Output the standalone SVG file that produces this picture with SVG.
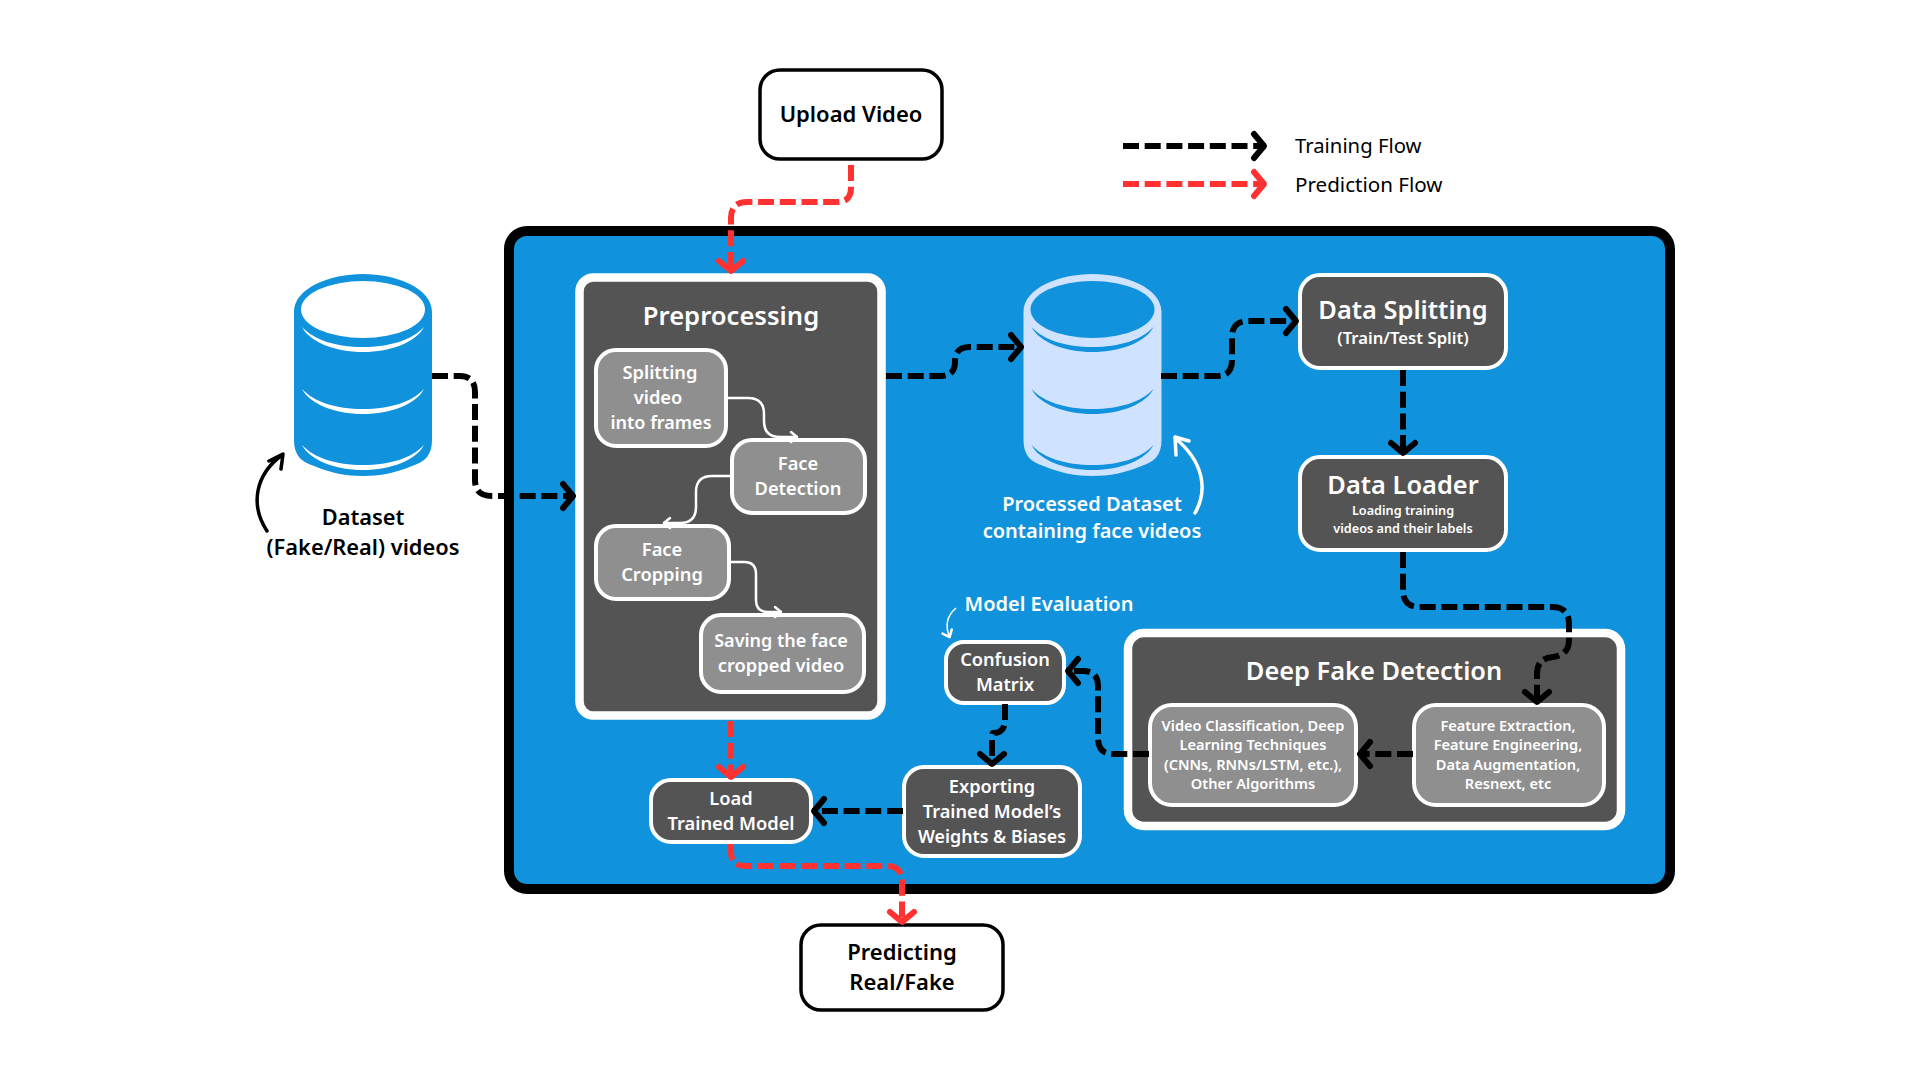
<svg xmlns="http://www.w3.org/2000/svg" width="1920" height="1080" viewBox="0 0 1920 1080">
<style>
text{font-family:"Noto Sans","Open Sans",sans-serif;font-weight:600;text-anchor:middle;fill:#fff}
.k{fill:#000}
.t{stroke:#fff;stroke-width:4;fill:#545454}
.s{stroke:#fff;stroke-width:4;fill:#8f8f8f}
.e{stroke:#000;stroke-width:3.500;fill:#fff}
.d{fill:none;stroke-width:6;stroke-dasharray:16 5.7}
.b{stroke:#000;marker-end:url(#ab)}
.r{stroke:#ff3131;marker-end:url(#ar)}
.w{fill:none;stroke:#fff;stroke-width:2.500;marker-end:url(#aw)}
</style>
<defs>
<marker id="ab" markerUnits="userSpaceOnUse" markerWidth="30" markerHeight="34" refX="20" refY="17" orient="auto"><path d="M8,5 L18,17 L8,29" fill="none" stroke="#000" stroke-width="6" stroke-linecap="round" stroke-linejoin="round"/></marker>
<marker id="ar" markerUnits="userSpaceOnUse" markerWidth="30" markerHeight="34" refX="20" refY="17" orient="auto"><path d="M8,5 L18,17 L8,29" fill="none" stroke="#ff3131" stroke-width="6" stroke-linecap="round" stroke-linejoin="round"/></marker>
<marker id="aw" markerUnits="userSpaceOnUse" markerWidth="20" markerHeight="20" refX="15" refY="10" orient="auto"><path d="M8,5 L14,10 L8,15" fill="none" stroke="#fff" stroke-width="2.500" stroke-linecap="round" stroke-linejoin="round"/></marker>
<path id="cyl" d="M294,312 C294,288 330,274 363,274 C396,274 432,288 432,312 V440 C432,455 425,462 412,466 C395,473 380,476 363,476 C346,476 331,473 314,466 C301,462 294,455 294,440 Z"/>
<ellipse id="cyltop" cx="363" cy="309.500" rx="62" ry="28.500"/>
<path id="cres" d="M302,0 C310,15 335,25 363,25 C391,25 416,15 424,0 C412,13 390,20 363,20 C336,20 314,13 302,0 Z"/>
</defs>
<rect width="1920" height="1080" fill="#fff"/>
<g id="container"><rect x="509" y="231" width="1161" height="658" rx="18" fill="#1192dc" stroke="#000" stroke-width="10"/></g>
<g id="dataset">
<use href="#cyl" fill="#1192dc"/><use href="#cyltop" fill="#fff"/>
<use href="#cres" y="327" fill="#fff"/><use href="#cres" y="389" fill="#fff"/><use href="#cres" y="445" fill="#fff"/>
<text class="k" x="363" y="525" font-size="21.800">Dataset</text>
<text class="k" x="363" y="555" font-size="21.800">(Fake/Real) videos</text>
</g>
<g id="processed-dataset">
<g transform="translate(729.500 0)">
<use href="#cyl" fill="#cfe2ff"/><use href="#cyltop" fill="#1192dc"/>
<use href="#cres" y="327" fill="#1192dc"/><use href="#cres" y="389" fill="#1192dc"/><use href="#cres" y="445" fill="#1192dc"/>
</g>
<text x="1092" y="511" font-size="20">Processed Dataset</text>
<text x="1092" y="538" font-size="20">containing face videos</text>
</g>
<g id="upload-video"><rect class="e" x="760" y="70" width="182" height="89" rx="20"/><text class="k" x="851" y="122" font-size="22">Upload Video</text></g>
<g id="predicting"><rect class="e" x="801" y="925" width="202" height="85" rx="20"/><text class="k" x="902" y="960" font-size="22">Predicting</text><text class="k" x="902" y="990" font-size="22">Real/Fake</text></g>
<g id="preprocessing"><rect x="579.500" y="277.500" width="302" height="438" rx="14" fill="#545454" stroke="#fff" stroke-width="8.500"/><text x="731" y="325" font-size="25.600">Preprocessing</text></g>
<g id="splitting"><rect class="s" x="596" y="350" width="130" height="96" rx="20"/><text x="660" y="379" font-size="18.300">Splitting</text><text x="658" y="404" font-size="18.300">video</text><text x="661" y="429" font-size="18">into frames</text></g>
<g id="face-detection"><rect class="s" x="732" y="440" width="133" height="73" rx="20"/><text x="798" y="470" font-size="18.300">Face</text><text x="798" y="495" font-size="18.300">Detection</text></g>
<g id="face-cropping"><rect class="s" x="596" y="526" width="133" height="73" rx="20"/><text x="662" y="556" font-size="18.300">Face</text><text x="662" y="581" font-size="18.300">Cropping</text></g>
<g id="saving"><rect class="s" x="701" y="615" width="163" height="77" rx="20"/><text x="781" y="647" font-size="18">Saving the face</text><text x="781" y="672" font-size="18.300">cropped video</text></g>
<g id="data-splitting"><rect class="t" x="1300" y="275" width="206" height="93" rx="20"/><text x="1403" y="319" font-size="25.400">Data Splitting</text><text x="1403" y="344" font-size="16.700">(Train/Test Split)</text></g>
<g id="data-loader"><rect class="t" x="1300" y="457" width="206" height="93" rx="20"/><text x="1403" y="494" font-size="25.400">Data Loader</text><text x="1403" y="515" font-size="12.700">Loading training</text><text x="1403" y="533" font-size="12.700">videos and their labels</text></g>
<g id="deep-fake"><rect x="1128" y="633" width="493" height="193" rx="16" fill="#545454" stroke="#fff" stroke-width="8.500"/><text x="1374" y="680" font-size="25.400">Deep Fake Detection</text></g>
<g id="video-classification"><rect class="s" x="1150" y="705" width="206" height="100" rx="22"/><text x="1253" y="731" font-size="14.600">Video Classification, Deep</text><text x="1253" y="750" font-size="14.600">Learning Techniques</text><text x="1253" y="770" font-size="14.600">(CNNs, RNNs/LSTM, etc.),</text><text x="1253" y="789" font-size="14.600">Other Algorithms</text></g>
<g id="feature-extraction"><rect class="s" x="1414" y="705" width="190" height="100" rx="22"/><text x="1508" y="731" font-size="14.600">Feature Extraction,</text><text x="1508" y="750" font-size="14.600">Feature Engineering,</text><text x="1508" y="770" font-size="14.600">Data Augmentation,</text><text x="1508" y="789" font-size="14.600">Resnext, etc</text></g>
<g id="confusion-matrix"><rect class="t" x="946" y="642" width="118" height="61" rx="18"/><text x="1005" y="666" font-size="18.200">Confusion</text><text x="1005" y="691" font-size="18.200">Matrix</text></g>
<g id="model-evaluation"><text x="1049" y="611" font-size="20">Model Evaluation</text></g>
<g id="exporting"><rect class="t" x="904" y="767" width="176" height="89" rx="20"/><text x="992" y="793" font-size="18.200">Exporting</text><text x="992" y="818" font-size="18.200">Trained Model’s</text><text x="992" y="843" font-size="17.800">Weights &amp; Biases</text></g>
<g id="load-model"><rect class="t" x="651" y="780" width="160" height="62" rx="20"/><text x="731" y="805" font-size="18.300">Load</text><text x="731" y="830" font-size="18.300">Trained Model</text></g>
<g id="legend"><text class="k" style="font-weight:400;text-anchor:start" x="1295" y="153" font-size="20.300">Training Flow</text><text class="k" style="font-weight:400;text-anchor:start" x="1295" y="192" font-size="20.600">Prediction Flow</text></g>
<g id="connectors">
<path class="d b" d="M1123,146 H1266"/>
<path class="d r" d="M1123,184 H1266"/>
<path class="d r" d="M851,165 V188 Q851,202 837,202 H747 Q731,202 731,218 V273"/>
<path class="d b" d="M432,376 H460 Q475,376 475,392 V480 Q475,496 492,496 H575"/>
<path class="d b" d="M886,376 H940 Q955,376 955,362 V361 Q955,347 970,347 H1023"/>
<path class="d b" d="M1161,376 H1217 Q1232,376 1232,360 V337 Q1232,321 1248,321 H1298"/>
<path class="d b" d="M1403,370 V455"/>
<path class="d b" d="M1403,552 V590 Q1403,607 1420,607 H1552 Q1569,607 1569,624 V640 Q1569,655 1553,657 Q1537,658 1537,674 V704"/>
<path class="d b" d="M1413,754 H1358"/>
<path class="d b" d="M1149,754 H1113 Q1098,754 1098,738 V686 Q1098,671 1083,671 H1066"/>
<path class="d b" d="M1005,704 V720 Q1005,733 993,733 Q992,733 992,740 V766"/>
<path class="d b" d="M903,811 H812"/>
<path class="d r" d="M731,721 V779"/>
<path class="d r" d="M731,844 V852 Q731,866 745,866 H887 Q902,866 902,882 V924"/>
<path class="w" d="M727,398 H748 Q764,398 764,414 V421 Q764,437 780,437 H798"/>
<path class="w" d="M731,476 H712 Q696,476 696,492 V507 Q696,523 680,523 H663"/>
<path class="w" d="M730,562 H744 Q756,562 756,574 V600 Q756,612 768,612 H782"/>
<path fill="none" stroke="#fff" stroke-width="3.500" stroke-linecap="round" stroke-linejoin="round" d="M1195,513 C1208,490 1204,462 1175,438 M1189,441 L1175,437 L1176,455"/>
<path class="w" style="stroke-width:1.500" d="M956,608 Q942,620 950,638"/>
<path fill="none" stroke="#000" stroke-width="3.500" stroke-linecap="round" stroke-linejoin="round" d="M267,531 C250,505 255,475 282,455 M269,461 L283,454 L281,469"/>
</g>
</svg>
